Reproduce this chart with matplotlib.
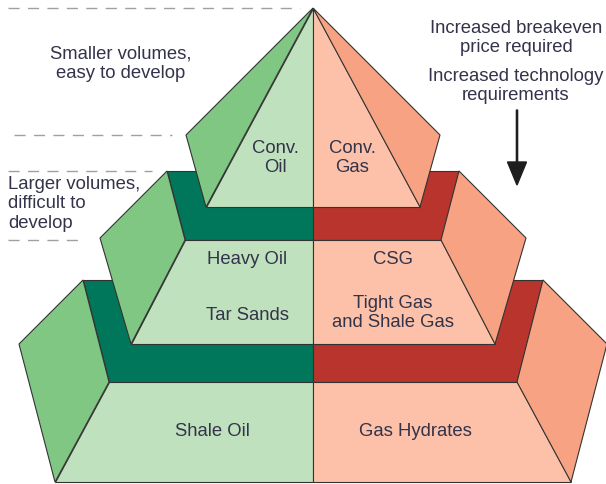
import matplotlib.pyplot as plt
from matplotlib.patches import Polygon

# pyramid tiers, top to bottom
tiers = ["Conventional", "Unconventional", "Frontier"]
oil_labels = ["Conv.\nOil", "Heavy Oil", "Tar Sands", "Shale Oil"]
gas_labels = ["Conv.\nGas", "CSG", "Tight Gas\nand Shale Gas", "Gas Hydrates"]
left_notes = ["Smaller volumes,\neasy to develop", "Larger volumes,\ndifficult to\ndevelop"]
right_notes = ["Increased breakeven\nprice required", "Increased technology\nrequirements"]

# geometry in image pixels, offsets from the centre line
CX = 313
# (back_y, back_half, front_y, front_half, side_x, side_y, base_y, base_half)
geom = [
    (8, 0, 8, 0, 127, 135, 207, 107),
    (171, 146, 240, 128, 213, 238, 344, 182),
    (280, 230, 382, 204, 294, 344, 482, 258),
]

oil = {"front": "#c0e1bd", "side": "#80c783", "top": "#00775a"}
gas = {"front": "#fcc1a8", "side": "#f6a283", "top": "#b8342c"}
EDGE = "#333333"
TXT = "#33334a"

fig = plt.figure(figsize=(6.06, 4.84), dpi=100)
ax = fig.add_axes([0, 0, 1, 1])
ax.set_xlim(0, 606)
ax.set_ylim(484, 0)
ax.axis("off")


def poly(pts, color, z):
    ax.add_patch(Polygon(pts, closed=True, facecolor=color, edgecolor=EDGE,
                         lw=0.8, joinstyle="miter", zorder=z))


# draw from the bottom tier up so upper tiers sit in front
for i in range(len(tiers) - 1, -1, -1):
    by, bh, fy, fh, sx, sy, ly, lh = geom[i]
    z = 10 + (len(tiers) - i) * 3
    for sign, c in ((-1, oil), (1, gas)):
        if bh > 0:
            poly([(CX + sign * bh, by), (CX, by), (CX, fy), (CX + sign * fh, fy)], c["top"], z)
        poly([(CX + sign * fh, fy), (CX, fy), (CX, ly), (CX + sign * lh, ly)], c["front"], z + 1)
        poly([(CX + sign * bh, by), (CX + sign * sx, sy), (CX + sign * lh, ly),
              (CX + sign * fh, fy)], c["side"], z + 1)

# dashed guide lines on the left
dash = dict(color="#a0a0a0", lw=1.0, linestyle=(0, (8, 6)))
ax.plot([8, 300], [8, 8], **dash)
ax.plot([14, 172], [135, 135], **dash)
ax.plot([8, 152], [171, 171], **dash)
ax.plot([8, 85], [240, 240], **dash)

fs = 13.3
ls = 1.2
font = dict(family="Liberation Sans", fontsize=fs, color=TXT, zorder=40)
ax.text(275, 158, oil_labels[0], ha="center", va="center", linespacing=ls, **font)
ax.text(247, 260, oil_labels[1], ha="center", va="center", **font)
ax.text(247, 316, oil_labels[2], ha="center", va="center", **font)
ax.text(212, 432, oil_labels[3], ha="center", va="center", **font)
ax.text(352, 158, gas_labels[0], ha="center", va="center", linespacing=ls, **font)
ax.text(393, 260, gas_labels[1], ha="center", va="center", **font)
ax.text(393, 313, gas_labels[2], ha="center", va="center", linespacing=ls, **font)
ax.text(415, 432, gas_labels[3], ha="center", va="center", **font)

ax.text(121, 64, left_notes[0], ha="center", va="center", linespacing=ls, **font)
ax.text(8, 204, left_notes[1], ha="left", va="center", linespacing=ls, **font)
ax.text(516, 38, right_notes[0], ha="center", va="center", linespacing=ls, **font)
ax.text(516, 86, right_notes[1], ha="center", va="center", linespacing=ls, **font)

ax.arrow(517, 110, 0, 75, width=1.2, head_width=19, head_length=23,
         length_includes_head=True, color="#1e1e1e", zorder=40)

fig.savefig("out.png", dpi=100)
